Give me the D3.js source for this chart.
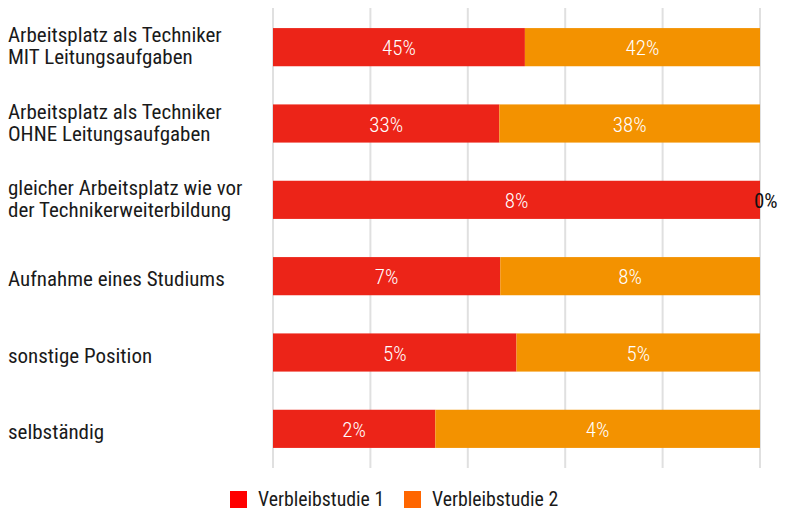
<!DOCTYPE html>
<html>
<head>
<meta charset="utf-8">
<script src="https://cdn.jsdelivr.net/npm/d3@7"></script>
<style>
  body { margin: 0; background: #fff; }
  text { font-family: "Liberation Sans Narrow", "Roboto Condensed", Roboto, sans-serif; }
</style>
</head>
<body>
<svg id="chart" width="785" height="510"></svg>
<script>
var categories = [
  ["Arbeitsplatz als Techniker", "MIT Leitungsaufgaben"],
  ["Arbeitsplatz als Techniker", "OHNE Leitungsaufgaben"],
  ["gleicher Arbeitsplatz wie vor", "der Technikerweiterbildung"],
  ["Aufnahme eines Studiums"],
  ["sonstige Position"],
  ["selbständig"]
];
var study1 = [45, 33, 8, 7, 5, 2];
var study2 = [42, 38, 0, 8, 5, 4];
var seriesNames = ["Verbleibstudie 1", "Verbleibstudie 2"];
var barColors = ["#ec2418", "#f39200"];
var legendColors = ["#ff0000", "#ff6600"];
var xTicks = [0, 0.2, 0.4, 0.6, 0.8, 1];

var svg = d3.select("#chart");
var plotLeft = 273, plotRight = 760, plotTop = 8, plotBottom = 468;

var x = d3.scaleLinear().domain([0, 1]).range([plotLeft, plotRight]);
var y = d3.scaleBand().domain(d3.range(categories.length))
  .range([plotTop + 1, plotBottom - 1]).paddingInner(0.5).paddingOuter(0.25);

// grid
svg.append("g").selectAll("line").data(xTicks).enter().append("line")
  .attr("x1", function(d){ return x(d); }).attr("x2", function(d){ return x(d); })
  .attr("y1", plotTop).attr("y2", plotBottom)
  .style("stroke", "#e0e0e0").style("stroke-width", 2);

// stacked rows, normalised to 100%
var rows = categories.map(function(c, i){
  var tot = study1[i] + study2[i];
  return [
    {i: i, s: 0, x0: 0, x1: study1[i] / tot, v: study1[i]},
    {i: i, s: 1, x0: study1[i] / tot, x1: 1, v: study2[i]}
  ];
});
var segs = [].concat.apply([], rows);
var narrow = function(d){ return (x(d.x1) - x(d.x0)) < 20; };

var g = svg.append("g");
g.selectAll("rect").data(segs).enter().append("rect")
  .attr("x", function(d){ return x(d.x0); })
  .attr("width", function(d){ return x(d.x1) - x(d.x0); })
  .attr("y", function(d){ return y(d.i); })
  .attr("height", y.bandwidth())
  .style("fill", function(d){ return barColors[d.s]; });

g.selectAll("text").data(segs).enter().append("text")
  .attr("x", function(d){ return narrow(d) ? x(d.x0) - 6 : (x(d.x0) + x(d.x1)) / 2; })
  .attr("y", function(d){ return y(d.i) + y.bandwidth() / 2 + 8; })
  .attr("text-anchor", function(d){ return narrow(d) ? "start" : "middle"; })
  .style("font-size", "21px")
  .style("font-weight", function(d){ return narrow(d) ? 400 : 300; })
  .style("fill", function(d){ return narrow(d) ? "#111" : "#fff"; })
  .text(function(d){ return d.v + "%"; });

// category labels
var lab = svg.append("g").selectAll("text").data(categories).enter().append("text")
  .attr("x", 8)
  .attr("y", function(d, i){ return y(i) + y.bandwidth() / 2 + 10 - (d.length - 1) * 15; })
  .style("font-size", "21px").style("fill", "#1a1a1a");
lab.selectAll("tspan").data(function(d){ return d; }).enter().append("tspan")
  .attr("x", 8).attr("dy", function(d, j){ return j ? 22 : 0; })
  .text(function(d){ return d; });

// legend
var leg = svg.append("g").selectAll("g").data(seriesNames).enter().append("g")
  .attr("transform", function(d, i){ return "translate(" + (230 + i * 174) + ",491)"; });
leg.append("rect").attr("width", 17).attr("height", 17)
  .style("fill", function(d, i){ return legendColors[i]; });
leg.append("text").attr("x", 28).attr("y", 15)
  .style("font-size", "19.8px").style("fill", "#1a1a1a")
  .text(function(d){ return d; });
</script>
</body>
</html>
